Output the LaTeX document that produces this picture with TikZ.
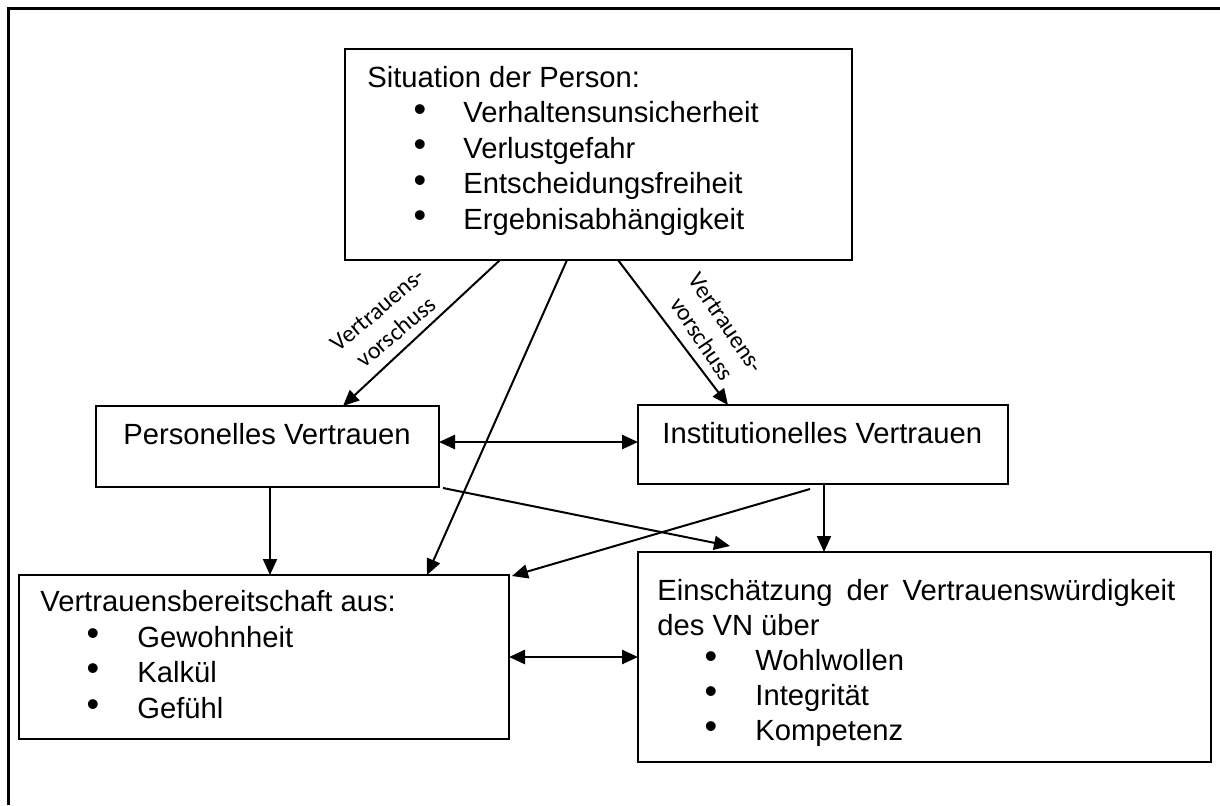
\documentclass[tikz,border=0pt]{standalone}
\usepackage{fontspec}
\setmainfont{Liberation Sans}
\newfontfamily\lblfont{Carlito}
\usetikzlibrary{arrows.meta}
\newcommand{\mainsize}{\fontsize{14.6pt}{17.5pt}\selectfont}
\newcommand{\bulsize}{\fontsize{18pt}{18pt}\selectfont}
\begin{document}
\begin{tikzpicture}[x=0.5pt,y=-0.5pt,
  box/.style={draw, line width=1pt, rectangle, anchor=north west, inner sep=0pt, outer sep=0pt},
  txt/.style={anchor=base west, inner sep=0pt, font=\mainsize},
  bul/.style={anchor=center, inner sep=0pt, font=\bulsize},
  arr/.style={line width=1pt, -{Triangle[length=8pt,width=7pt]}},
  darr/.style={line width=1.3pt, {Triangle[length=8pt,width=7pt]}-{Triangle[length=8pt,width=7pt]}},
  lbl/.style={inner sep=0pt, align=center, font=\lblfont\fontsize{12pt}{14.5pt}\selectfont}]
\useasboundingbox (0,0) rectangle (1220,805);

% page frame (top and left rules)
\draw[line width=1.5pt] (8,805) -- (8,8) -- (1220,8);

% boxes
\node[box, minimum width=253.5pt, minimum height=105.5pt] (sit)  at (345,49)  {};
\node[box, minimum width=171.5pt, minimum height=40.5pt]  (pers) at (96,406)  {};
\node[box, minimum width=185pt,   minimum height=39.5pt]  (inst) at (638,405) {};
\node[box, minimum width=245pt,   minimum height=82pt]    (vb)   at (19,575)  {};
\node[box, minimum width=286.5pt, minimum height=105pt]   (ein)  at (638,552) {};

% situation of the person
\node[txt] (s0) at (367,87) {Situation der Person:};
\node[bul] (s1b) at (420,113) {•};
\node[txt] (s1)  at (463,122.5) {Verhaltensunsicherheit};
\node[bul] (s2b) at (420,148.5) {•};
\node[txt] (s2)  at (463,158) {Verlustgefahr};
\node[bul] (s3b) at (420,184) {•};
\node[txt] (s3)  at (463,193.5) {Entscheidungsfreiheit};
\node[bul] (s4b) at (420,219.5) {•};
\node[txt] (s4)  at (463,229) {Ergebnisabhängigkeit};

% trust types
\node[txt] (pt) at (123,444) {Personelles Vertrauen};
\node[txt] (it) at (662,443) {Institutionelles Vertrauen};

% willingness to trust
\node[txt] (v0) at (40,611) {Vertrauensbereitschaft aus:};
\node[bul] (v1b) at (93,637.5) {•};
\node[txt] (v1)  at (137,647) {Gewohnheit};
\node[bul] (v2b) at (93,672.5) {•};
\node[txt] (v2)  at (137,682) {Kalkül};
\node[bul] (v3b) at (93,708.5) {•};
\node[txt] (v3)  at (137,718) {Gefühl};

% trustworthiness assessment
\node[txt] (e0) at (657,600) {\makebox[259pt][s]{Einschätzung der Vertrauenswürdigkeit}};
\node[txt] (e1) at (657,635) {des VN über};
\node[bul] (e2b) at (711,660.5) {•};
\node[txt] (e2)  at (755,670) {Wohlwollen};
\node[bul] (e3b) at (711,695.5) {•};
\node[txt] (e3)  at (755,705) {Integrität};
\node[bul] (e4b) at (711,730.5) {•};
\node[txt] (e4)  at (755,740) {Kompetenz};

% connectors
\draw[arr] ([shift={(155,0)}]sit.south west) -- ([shift={(247,0)}]pers.north west);
\draw[arr] ([shift={(222,0)}]sit.south west) -- ([shift={(408,0)}]vb.north west);
\draw[arr] ([shift={(273,0)}]sit.south west) -- ([shift={(90,0)}]inst.north west);
\draw[darr] ([shift={(0,-4.5)}]pers.east) -- ([shift={(0,-2.5)}]inst.west);
\draw[arr] ([shift={(174,0)}]pers.south west) -- ([shift={(251,0)}]vb.north west);
\draw[arr] ([shift={(4,1)}]pers.south east) -- ([shift={(92,-6)}]ein.north west);
\draw[arr] ([shift={(172,5)}]inst.south west) -- ([shift={(3,1)}]vb.north east);
\draw[arr] ([shift={(186,0)}]inst.south west) -- ([shift={(186,0)}]ein.north west);
\draw[darr] (vb.east) -- (ein.west);

% edge labels
\node[lbl, rotate=40]  (l1) at (387,321) {Vertrauens-\\vorschuss};
\node[lbl, rotate=-56] (l2) at (714,331) {Vertrauens-\\vorschuss};
\end{tikzpicture}
\end{document}
